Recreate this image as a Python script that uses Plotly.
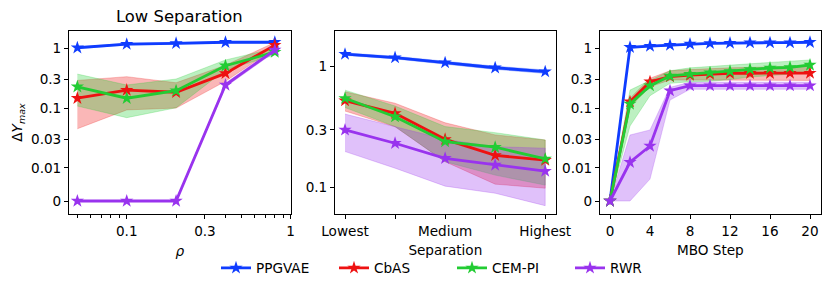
import numpy as np
import plotly.graph_objects as go

# ---------------- data ----------------
methods = ["PPGVAE", "CbAS", "CEM-PI", "RWR"]
colors = {"PPGVAE": "#0f3cff", "CbAS": "#ee1111", "CEM-PI": "#22cc33", "RWR": "#9933ee"}
fills = {"PPGVAE": "rgba(15,60,255,0.3)", "CbAS": "rgba(238,17,17,0.3)",
         "CEM-PI": "rgba(34,204,51,0.3)", "RWR": "rgba(153,51,238,0.3)"}

# panel 1: Low Separation vs rho
rho = [0.05, 0.1, 0.2, 0.4, 0.8]
p1_mean = {
    "PPGVAE": [1.02, 1.17, 1.21, 1.26, 1.26],
    "CbAS":   [0.146, 0.20, 0.184, 0.38, 1.13],
    "CEM-PI": [0.227, 0.146, 0.195, 0.51, 0.86],
    "RWR":    [0.0, 0.0, 0.0, 0.243, 0.935],
}
p1_lo = {
    "PPGVAE": [0.99, 1.13, 1.17, 1.22, 1.22],
    "CbAS":   [0.045, 0.093, 0.10, 0.28, 1.0],
    "CEM-PI": [0.108, 0.069, 0.101, 0.434, 0.77],
    "RWR":    [0.0, 0.0, 0.0, 0.225, 0.87],
}
p1_hi = {
    "PPGVAE": [1.05, 1.21, 1.25, 1.30, 1.30],
    "CbAS":   [0.29, 0.335, 0.265, 0.52, 1.25],
    "CEM-PI": [0.37, 0.243, 0.306, 0.637, 1.0],
    "RWR":    [0.0, 0.0, 0.0, 0.26, 1.0],
}

# panel 2: vs separation
sep_pos = [0, 1, 2, 3, 4]
sep_label_pos = [0, 2, 4]
sep_labels = ["Lowest", "Medium", "Highest"]
sep_minor_pos = [1, 3]
p2_mean = {
    "PPGVAE": [1.27, 1.19, 1.08, 0.98, 0.91],
    "CbAS":   [0.524, 0.412, 0.251, 0.185, 0.169],
    "CEM-PI": [0.548, 0.386, 0.24, 0.216, 0.173],
    "RWR":    [0.30, 0.233, 0.175, 0.154, 0.137],
}
p2_lo = {
    "PPGVAE": [1.24, 1.16, 1.05, 0.95, 0.88],
    "CbAS":   [0.43, 0.319, 0.164, 0.107, 0.099],
    "CEM-PI": [0.46, 0.32, 0.164, 0.127, 0.105],
    "RWR":    [0.199, 0.145, 0.103, 0.09, 0.071],
}
p2_hi = {
    "PPGVAE": [1.30, 1.22, 1.11, 1.01, 0.94],
    "CbAS":   [0.62, 0.499, 0.344, 0.273, 0.248],
    "CEM-PI": [0.64, 0.473, 0.32, 0.285, 0.248],
    "RWR":    [0.406, 0.319, 0.251, 0.218, 0.212],
}

# panel 3: vs MBO step
steps = [0, 2, 4, 6, 8, 10, 12, 14, 16, 18, 20]
p3_mean = {
    "PPGVAE": [0, 1.04, 1.09, 1.13, 1.18, 1.21, 1.22, 1.24, 1.24, 1.24, 1.26],
    "CbAS":   [0, 0.128, 0.276, 0.335, 0.357, 0.37, 0.382, 0.382, 0.382, 0.385, 0.385],
    "CEM-PI": [0, 0.117, 0.237, 0.344, 0.37, 0.391, 0.412, 0.445, 0.468, 0.48, 0.525],
    "RWR":    [0, 0.0124, 0.0232, 0.195, 0.237, 0.237, 0.237, 0.237, 0.237, 0.237, 0.237],
}
p3_lo = {
    "PPGVAE": [0, 1.01, 1.06, 1.10, 1.15, 1.18, 1.19, 1.21, 1.21, 1.21, 1.23],
    "CbAS":   [0, 0.105, 0.227, 0.295, 0.29, 0.29, 0.29, 0.29, 0.29, 0.29, 0.29],
    "CEM-PI": [0, 0.05, 0.161, 0.259, 0.275, 0.28, 0.30, 0.33, 0.35, 0.37, 0.405],
    "RWR":    [0, 0.0, 0.0066, 0.136, 0.206, 0.206, 0.206, 0.206, 0.206, 0.206, 0.206],
}
p3_hi = {
    "PPGVAE": [0, 1.07, 1.12, 1.16, 1.21, 1.24, 1.25, 1.27, 1.27, 1.27, 1.29],
    "CbAS":   [0, 0.146, 0.315, 0.42, 0.44, 0.46, 0.47, 0.48, 0.49, 0.50, 0.50],
    "CEM-PI": [0, 0.20, 0.29, 0.42, 0.47, 0.50, 0.52, 0.55, 0.58, 0.60, 0.637],
    "RWR":    [0, 0.0354, 0.043, 0.222, 0.27, 0.27, 0.27, 0.27, 0.27, 0.27, 0.27],
}

symlog_ticks = [0, 0.01, 0.03, 0.1, 0.3, 1]
symlog_ticktext = ["0", "0.01", "0.03", "0.1", "0.3", "1"]
log_ticks = [0.1, 0.3, 1]
log_ticktext = ["0.1", "0.3", "1"]
rho_ticks = [0.1, 0.3, 1]
rho_ticktext = ["0.1", "0.3", "1"]
rho_minor = [0.05, 0.06, 0.07, 0.08, 0.09, 0.2, 0.4, 0.5, 0.6, 0.7, 0.8, 0.9]
step_ticks = [0, 4, 8, 12, 16, 20]

# ---------------- symlog transform (linthresh 0.01) ----------------
LIN = 0.555
LT = 0.01


def symlog(v):
    v = np.asarray(v, dtype=float)
    return np.where(v < LT, v / LT * LIN, LIN + np.log10(np.maximum(v, LT) / LT))


FONT = "DejaVu Sans"
FS = 13.6

fig = go.Figure()


def add_panel(x, mean, lo, hi, xa, ya, transform, showlegend):
    for m in methods:
        upper = transform(hi[m])
        lower = transform(lo[m])
        xs = list(x) + list(x)[::-1]
        ys = list(upper) + list(lower)[::-1]
        fig.add_trace(go.Scatter(x=xs, y=ys, xaxis=xa, yaxis=ya, fill="toself",
                                 fillcolor=fills[m], mode="lines",
                                 line=dict(color=fills[m], width=0.8),
                                 showlegend=False, hoverinfo="skip"))
    for m in methods:
        fig.add_trace(go.Scatter(x=x, y=transform(mean[m]), xaxis=xa, yaxis=ya,
                                 mode="lines+markers", name=m,
                                 line=dict(color=colors[m], width=2.8),
                                 marker=dict(symbol="star", size=10, color=colors[m],
                                             line=dict(width=0)),
                                 showlegend=showlegend, legendgroup=m))


ident = lambda v: np.asarray(v, dtype=float)
add_panel(rho, p1_mean, p1_lo, p1_hi, "x", "y", symlog, True)
add_panel(sep_pos, p2_mean, p2_lo, p2_hi, "x2", "y2", ident, False)
add_panel(steps, p3_mean, p3_lo, p3_hi, "x3", "y3", symlog, False)

# page has an 8px body margin: figure occupies page px 8..831 / 8..293
OFF = 8
W, H = 831 - OFF, 293 - OFF


def fx(xp):
    return (xp - OFF) / W


def fy(yp):
    return 1 - (yp - OFF) / H


ydom = [fy(214.3), fy(30.7)]

axis_common = dict(showline=True, linecolor="black", linewidth=1, mirror=True,
                   ticks="outside", ticklen=4, tickwidth=1, tickcolor="black",
                   showgrid=False, zeroline=False, automargin=False,
                   tickfont=dict(family=FONT, size=FS, color="black"))

fig.update_layout(
    width=W, height=H,
    margin=dict(l=0, r=0, t=0, b=0, autoexpand=False),
    paper_bgcolor="white", plot_bgcolor="white",
    font=dict(family=FONT, size=FS, color="black"),
    xaxis=dict(domain=[fx(69), fx(290.7)], anchor="y", type="log",
               range=[-1.352, 0.0], tickmode="array", tickvals=rho_ticks,
               ticktext=rho_ticktext,
               minor=dict(tickmode="array", tickvals=rho_minor, ticks="outside",
                          ticklen=2.5, tickcolor="black"),
               title=dict(text="<i>ρ</i>", font=dict(family=FONT, size=FS), standoff=8),
               **axis_common),
    yaxis=dict(domain=ydom, anchor="x", range=[-0.2225, 2.849], tickmode="array",
               tickvals=list(symlog(symlog_ticks)), ticktext=symlog_ticktext,
               title=dict(text="Δ<i>Y</i><sub><i>max</i></sub>",
                          font=dict(family=FONT, size=FS), standoff=5),
               **axis_common),
    xaxis2=dict(domain=[fx(335), fx(555.7)], anchor="y2", range=[-0.2, 4.21],
                tickmode="array", tickvals=sep_label_pos, ticktext=sep_labels,
                minor=dict(tickmode="array", tickvals=sep_minor_pos, ticks="outside",
                           ticklen=4, tickcolor="black"),
                title=dict(text="Separation", font=dict(family=FONT, size=FS), standoff=7),
                **axis_common),
    yaxis2=dict(domain=ydom, anchor="x2", type="log", range=[-1.22, 0.2975],
                tickmode="array", tickvals=log_ticks, ticktext=log_ticktext,
                **axis_common),
    xaxis3=dict(domain=[fx(600), fx(820.7)], anchor="y3", range=[-1, 21.07],
                tickmode="array", tickvals=step_ticks,
                ticktext=[str(s) for s in step_ticks],
                title=dict(text="MBO Step", font=dict(family=FONT, size=FS), standoff=7),
                **axis_common),
    yaxis3=dict(domain=ydom, anchor="x3", range=[-0.2225, 2.849], tickmode="array",
                tickvals=list(symlog(symlog_ticks)), ticktext=symlog_ticktext,
                **axis_common),
    legend=dict(orientation="h", x=fx(452), xanchor="center", y=fy(268),
                yanchor="middle", font=dict(family=FONT, size=FS),
                entrywidth=73, entrywidthmode="pixels", itemwidth=30,
                bgcolor="rgba(0,0,0,0)"),
    annotations=[dict(text="Low Separation", x=fx((69 + 290.7) / 2), y=fy(17),
                      xref="paper", yref="paper", xanchor="center", yanchor="middle",
                      showarrow=False, font=dict(family=FONT, size=16.4, color="black"))],
)

fig.write_html("out.html")
